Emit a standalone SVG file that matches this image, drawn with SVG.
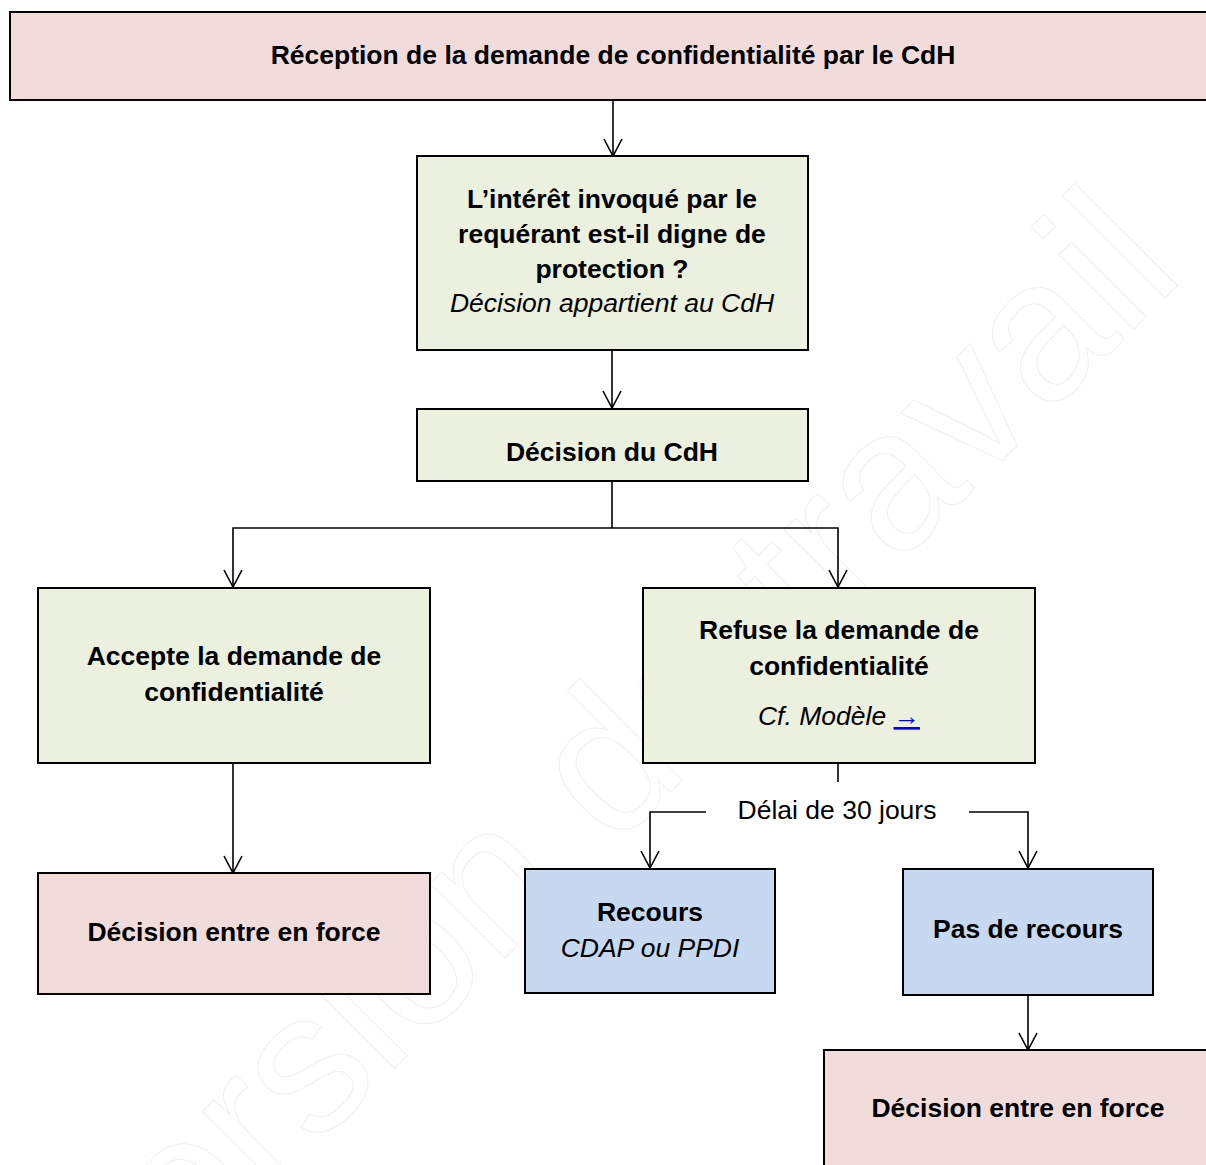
<svg xmlns="http://www.w3.org/2000/svg" width="1206" height="1165" viewBox="0 0 1206 1165">
<style>
  text { font-family: "Liberation Sans", Arial, sans-serif; font-size: 26.5px; fill: #000; text-anchor: middle; }
  .b { font-weight: bold; }
  .i { font-style: italic; }
  .pink { fill: #f2dcdb; stroke: #000; stroke-width: 2; }
  .green { fill: #ebf1de; stroke: #000; stroke-width: 2; }
  .blue { fill: #c6d9f1; stroke: #000; stroke-width: 2; }
  .conn { fill: none; stroke: #000; stroke-width: 1.6; }
  .wm { font-size: 200px; fill: none; stroke: #f0f0f0; stroke-width: 1; text-anchor: end; }
  .link { fill: #0000ff; font-style: normal; text-decoration: underline; }
</style>
<defs>
  <marker id="arr" markerUnits="userSpaceOnUse" viewBox="-19 -11 22 22" markerWidth="22" markerHeight="22" refX="0" refY="0" orient="auto" overflow="visible">
    <path d="M -17 -9 L 0 0 L -17 9" fill="none" stroke="#000" stroke-width="1.6"/>
  </marker>
</defs>
<rect x="0" y="0" width="1206" height="1165" fill="#fff"/>
<text class="wm" transform="translate(1187 276) rotate(-45)">Version de travail</text>

<g id="connectors">
  <path class="conn" d="M 613 100 L 613 156" marker-end="url(#arr)"/>
  <path class="conn" d="M 612 350 L 612 408" marker-end="url(#arr)"/>
  <path class="conn" d="M 612 481 L 612 528"/>
  <path class="conn" d="M 612 528 L 233 528 L 233 587" marker-end="url(#arr)"/>
  <path class="conn" d="M 612 528 L 838 528 L 838 587" marker-end="url(#arr)"/>
  <path class="conn" d="M 233 763 L 233 873" marker-end="url(#arr)"/>
  <path class="conn" d="M 838 763 L 838 782"/>
  <path class="conn" d="M 706 812 L 650 812 L 650 868" marker-end="url(#arr)"/>
  <path class="conn" d="M 969 812 L 1028 812 L 1028 868" marker-end="url(#arr)"/>
  <path class="conn" d="M 1028 995 L 1028 1050" marker-end="url(#arr)"/>
</g>
<text x="837" y="819">Délai de 30 jours</text>

<g id="reception">
  <rect class="pink" x="10" y="12" width="1210" height="88"/>
  <text class="b" x="613" y="64">Réception de la demande de confidentialité par le CdH</text>
</g>
<g id="interet">
  <rect class="green" x="417" y="156" width="391" height="194"/>
  <text class="b" x="612" y="208">L’intérêt invoqué par le</text>
  <text class="b" x="612" y="243">requérant est-il digne de</text>
  <text class="b" x="612" y="278">protection ?</text>
  <text class="i" x="612" y="312">Décision appartient au CdH</text>
</g>
<g id="decision">
  <rect class="green" x="417" y="409" width="391" height="72"/>
  <text class="b" x="612" y="461">Décision du CdH</text>
</g>
<g id="accepte">
  <rect class="green" x="38" y="588" width="392" height="175"/>
  <text class="b" x="234" y="665">Accepte la demande de</text>
  <text class="b" x="234" y="701">confidentialité</text>
</g>
<g id="refuse">
  <rect class="green" x="643" y="588" width="392" height="175"/>
  <text class="b" x="839" y="639">Refuse la demande de</text>
  <text class="b" x="839" y="675">confidentialité</text>
  <text class="i" x="839" y="725">Cf. Modèle <tspan class="link">→</tspan></text>
</g>
<g id="force-gauche">
  <rect class="pink" x="38" y="873" width="392" height="121"/>
  <text class="b" x="234" y="941">Décision entre en force</text>
</g>
<g id="recours">
  <rect class="blue" x="525" y="869" width="250" height="124"/>
  <text class="b" x="650" y="921">Recours</text>
  <text class="i" x="650" y="957">CDAP ou PPDI</text>
</g>
<g id="pas-recours">
  <rect class="blue" x="903" y="869" width="250" height="126"/>
  <text class="b" x="1028" y="938">Pas de recours</text>
</g>
<g id="force-droite">
  <rect class="pink" x="824" y="1050" width="400" height="130"/>
  <text class="b" x="1018" y="1117">Décision entre en force</text>
</g>
</svg>
